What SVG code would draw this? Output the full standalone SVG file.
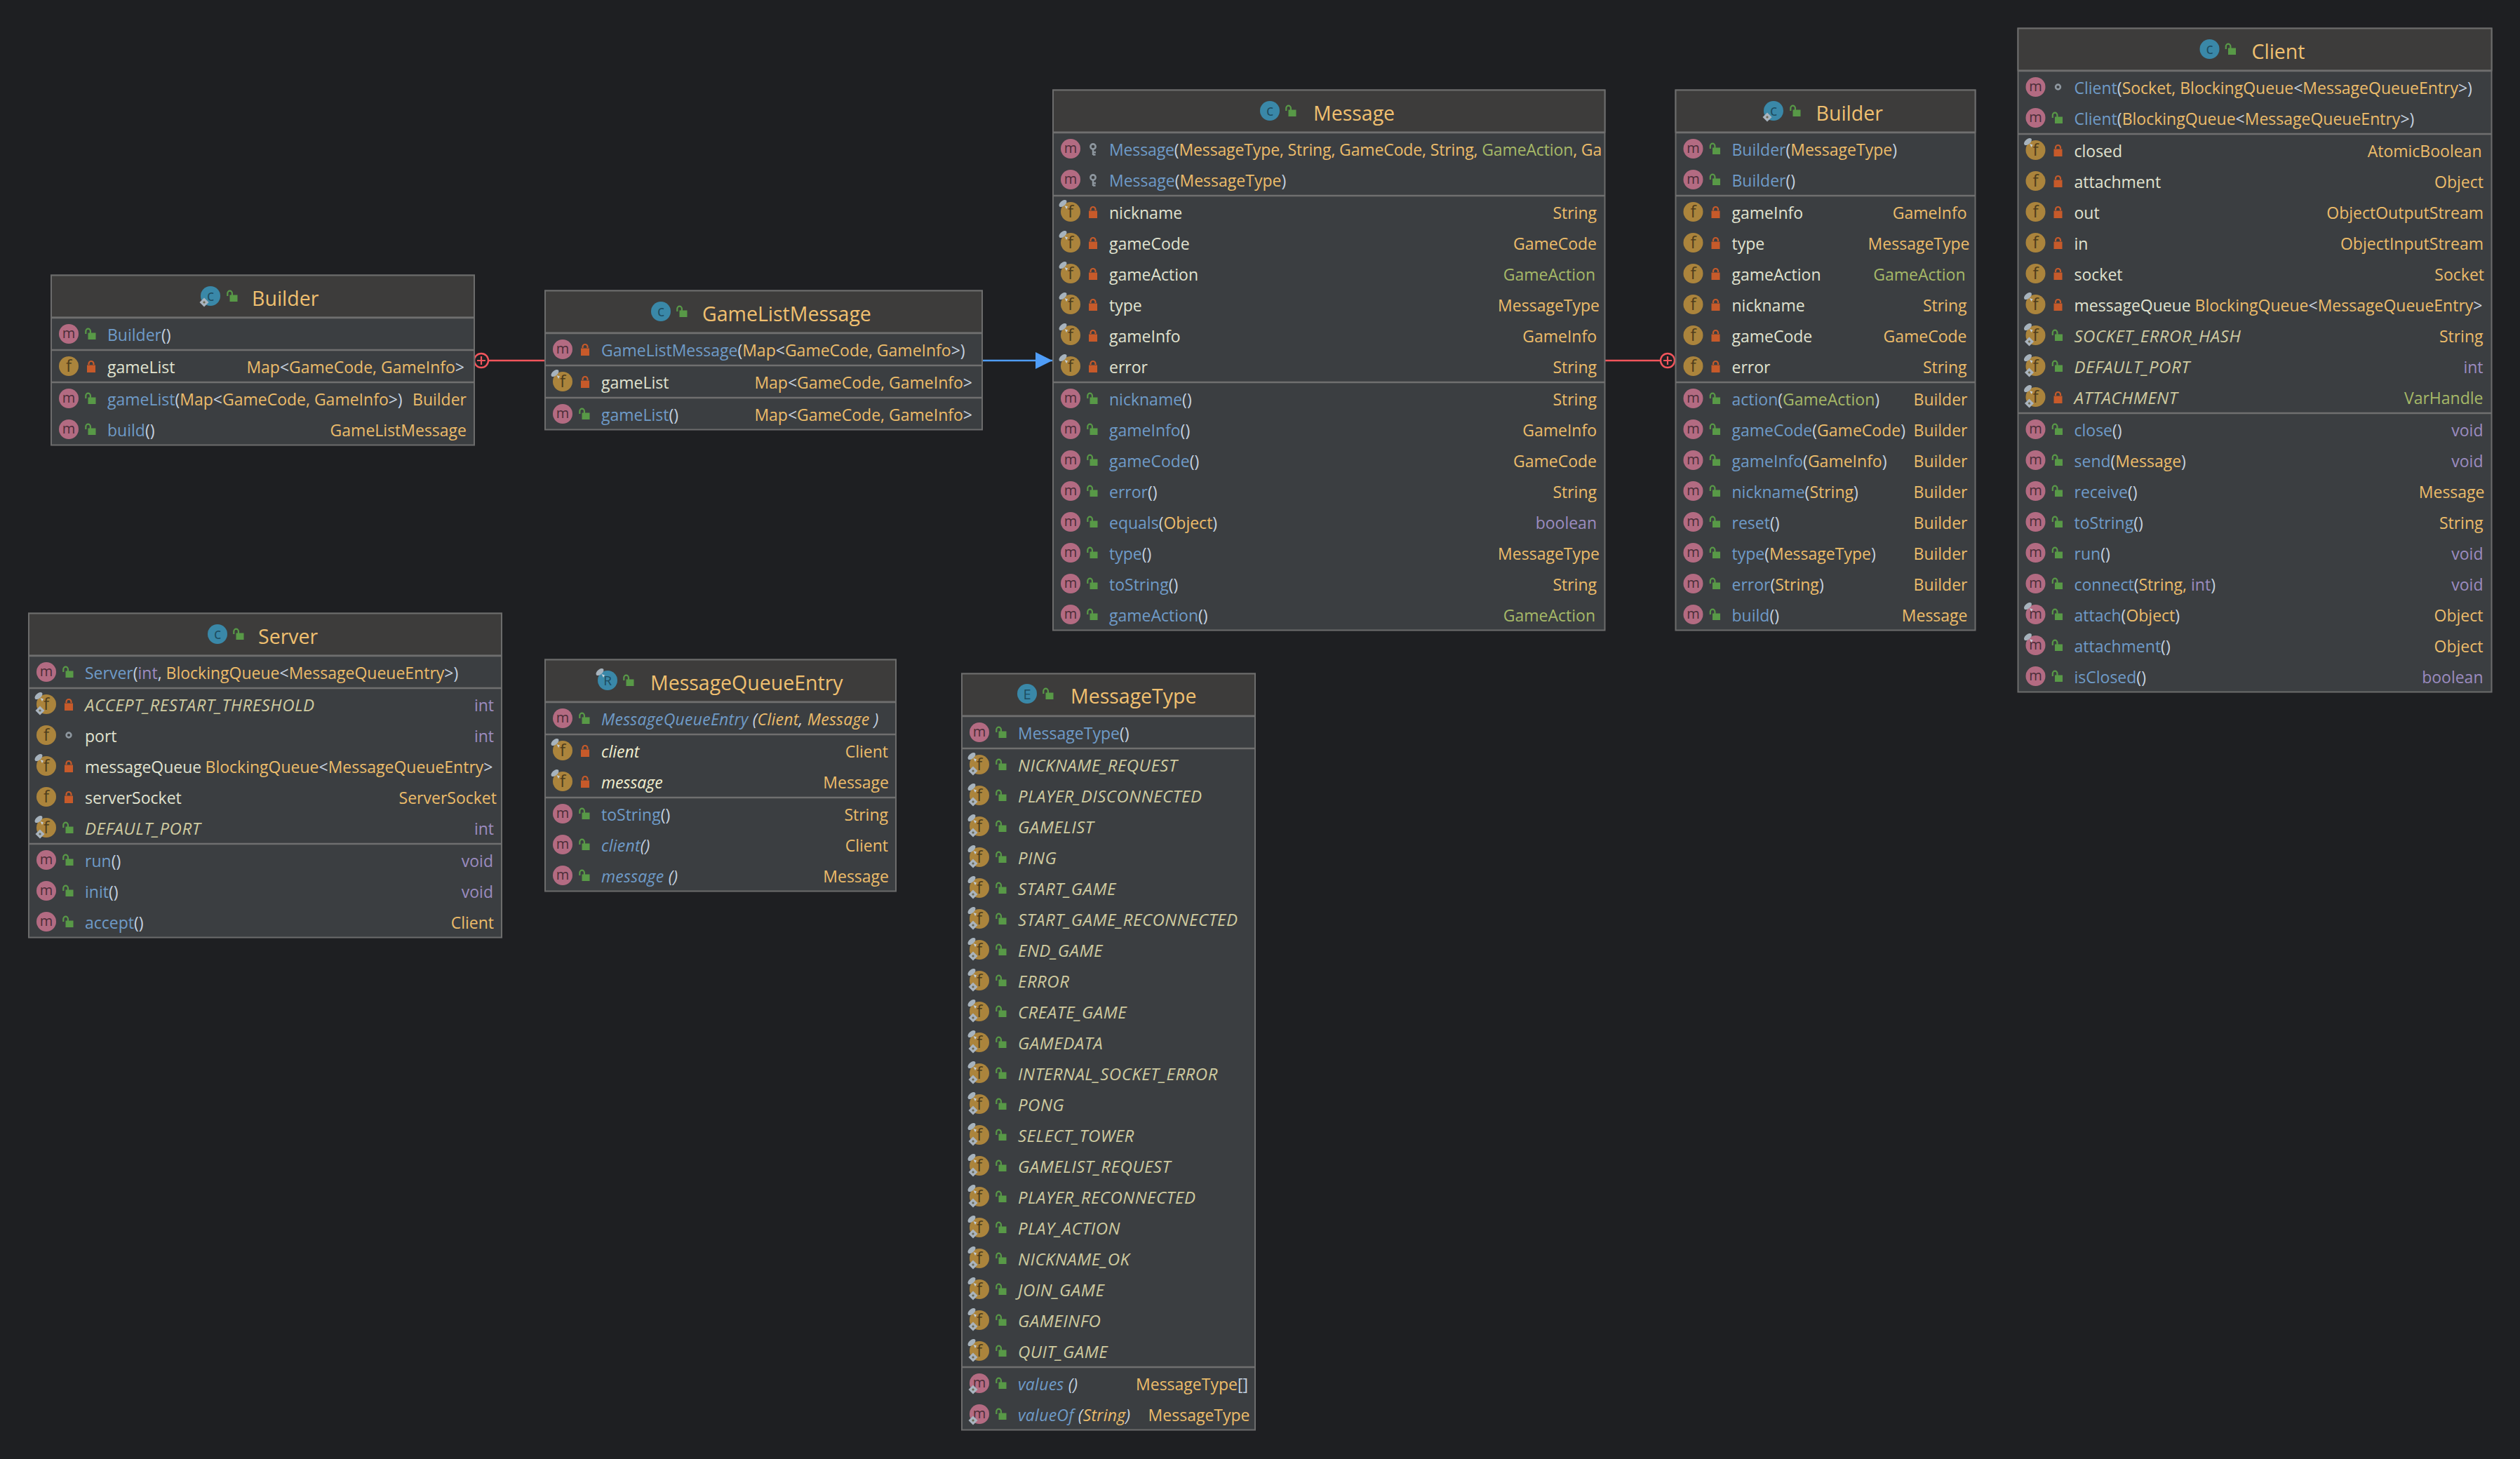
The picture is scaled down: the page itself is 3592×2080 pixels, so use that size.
<svg xmlns="http://www.w3.org/2000/svg" width="3592" height="2080" viewBox="0 0 3592 2080">
<style>
text{font-family:"Open Sans","Noto Sans",sans-serif;font-size:23px;white-space:pre}
.body{fill:#3b3e41;stroke:#6c6c6c;stroke-width:2}
.head{fill:#3d3c3b;stroke:#6c6c6c;stroke-width:2}
.dv{stroke:#6f6f6f;stroke-width:2.4;fill:none}
.title{font-size:28.5px;fill:#f0c070}
.n{fill:#6f9bc8}.p{fill:#c5d2e0}.t{fill:#ecbc6a}.g{fill:#a6b968}.k{fill:#9c8cc0}
.f{fill:#e0e3d0}.fi{fill:#cfcba0;font-style:italic;font-size:24px;letter-spacing:.5px}.fw{fill:#f1efcf;font-style:italic}.i{font-style:italic;letter-spacing:.25px}
.r{text-anchor:end}
.il{text-anchor:middle}
.conn{fill:none;stroke-width:2.6}
</style>
<defs>
<clipPath id="msgclip"><rect x="0" y="190" width="783" height="44"/></clipPath>
<g id="m"><circle cx="25" cy="0" r="14" fill="#b36b82"/><text class="il" x="25" y="5.5" style="font-size:20px;fill:#4b2d38">m</text></g>
<g id="f"><circle cx="25" cy="0" r="14" fill="#ab843c"/><text class="il" x="25" y="8" style="font-size:24px;fill:#4f3d1c">f</text></g>
<g id="pin"><ellipse cx="14" cy="-12" rx="6.5" ry="3.6" transform="rotate(-40 14 -12)" fill="#a7b3bd"/><path d="M16.5 -9L21 -7.5L19 -4z" fill="#c5ced6"/></g>
<g id="dia"><path d="M16 2.5L22.5 9L16 15.5L9.5 9z" fill="#a9b4bf"/><path d="M16 7L18 9L16 11L14 9z" fill="#6d6a55"/></g>
<g id="lo"><path d="M53.5 -2V-3.5a3.5 3.5 0 0 1 7 0V-2" fill="none" stroke="#c75a2a" stroke-width="2.2"/><rect x="51" y="-1.5" width="12" height="10.5" fill="#c75a2a"/></g>
<g id="lg"><path d="M49.3 0V-4a3.3 3.3 0 0 1 6.6 0V-1" fill="none" stroke="#589947" stroke-width="2.2"/><rect x="52.5" y="-1.5" width="11" height="9.5" fill="#589947"/></g>
<g id="key"><circle cx="57" cy="-3" r="3.6" fill="none" stroke="#8e979f" stroke-width="2.6"/><path d="M57 0V9M57 5H61M57 8.5H60.5" fill="none" stroke="#8e979f" stroke-width="2.4"/></g>
<circle id="pk" cx="57" cy="0" r="3.4" fill="none" stroke="#8e979f" stroke-width="2.6"/>
<marker id="arrow" markerUnits="userSpaceOnUse" viewBox="0 0 24 24" refX="24" refY="12" markerWidth="24" markerHeight="24" orient="0"><path d="M0 0L24 12L0 24z" fill="#4f9df8"/></marker>
<marker id="plusR" markerUnits="userSpaceOnUse" viewBox="0 0 24 24" refX="22" refY="12" markerWidth="24" markerHeight="24" orient="0"><circle cx="12" cy="12" r="10" fill="none" stroke="#f2555c" stroke-width="2.4"/><path d="M12 6V18M6 12H18" stroke="#f2555c" stroke-width="2.2" fill="none"/></marker>
<marker id="plusL" markerUnits="userSpaceOnUse" viewBox="0 0 24 24" refX="2" refY="12" markerWidth="24" markerHeight="24" orient="0"><circle cx="12" cy="12" r="10" fill="none" stroke="#f2555c" stroke-width="2.4"/><path d="M12 6V18M6 12H18" stroke="#f2555c" stroke-width="2.2" fill="none"/></marker>
</defs>
<rect width="3592" height="2080" fill="#1e1f22"/>
<g id="connectors">
<path class="conn" d="M696 514H776" stroke="#f2555c" marker-start="url(#plusR)"/>
<path class="conn" d="M1401 514H1500" stroke="#4f9df8" marker-end="url(#arrow)"/>
<path class="conn" d="M2288 514H2367" stroke="#f2555c" marker-end="url(#plusL)"/>
</g>

<g id="builder-gamelist" transform="translate(73 0)">
<rect class="body" y="392.5" width="603" height="242"/><rect class="head" y="392.5" width="603" height="60"/>
<path class="dv" d="M0 453H603M0 499H603M0 545H603"/>
<circle cx="227" cy="422" r="14" fill="#3a88a8"/><text class="il" x="227" y="429" style="font-size:21px;fill:#1d4c60">c</text><use href="#dia" x="202" y="422"/><use href="#lg" x="202" y="422"/>
<text class="title" x="286" y="436">Builder</text>
<use href="#m" y="476"/><use href="#lg" y="476"/><text x="80" y="486"><tspan class="n">Builder</tspan><tspan class="p">()</tspan></text>
<use href="#f" y="522"/><use href="#lo" y="522"/><text class="f" x="80" y="532">gameList</text><text class="r" x="589" y="532"><tspan class="t">Map</tspan><tspan class="p">&lt;</tspan><tspan class="t">GameCode, GameInfo</tspan><tspan class="p">&gt;</tspan></text>
<use href="#m" y="568"/><use href="#lg" y="568"/><text x="80" y="578"><tspan class="n">gameList</tspan><tspan class="p">(</tspan><tspan class="t">Map</tspan><tspan class="p">&lt;</tspan><tspan class="t">GameCode, GameInfo</tspan><tspan class="p">&gt;)</tspan></text><text class="r t" x="592" y="578">Builder</text>
<use href="#m" y="612"/><use href="#lg" y="612"/><text x="80" y="622"><tspan class="n">build</tspan><tspan class="p">()</tspan></text><text class="r t" x="592" y="622">GameListMessage</text>
</g>

<g id="gamelistmessage" transform="translate(777 0)">
<rect class="body" y="414.5" width="623" height="198"/><rect class="head" y="414.5" width="623" height="60"/>
<path class="dv" d="M0 475H623M0 521H623M0 567H623"/>
<circle cx="165" cy="444" r="14" fill="#3a88a8"/><text class="il" x="165" y="451" style="font-size:21px;fill:#1d4c60">c</text><use href="#lg" x="139" y="444"/>
<text class="title" x="224" y="458">GameListMessage</text>
<use href="#m" y="498"/><use href="#lo" y="498"/><text x="80" y="508"><tspan class="n">GameListMessage</tspan><tspan class="p">(</tspan><tspan class="t">Map</tspan><tspan class="p">&lt;</tspan><tspan class="t">GameCode, GameInfo</tspan><tspan class="p">&gt;)</tspan></text>
<use href="#f" y="544"/><use href="#pin" y="544"/><use href="#lo" y="544"/><text class="f" x="80" y="554">gameList</text><text class="r" x="609" y="554"><tspan class="t">Map</tspan><tspan class="p">&lt;</tspan><tspan class="t">GameCode, GameInfo</tspan><tspan class="p">&gt;</tspan></text>
<use href="#m" y="590"/><use href="#lg" y="590"/><text x="80" y="600"><tspan class="n">gameList</tspan><tspan class="p">()</tspan></text><text class="r" x="609" y="600"><tspan class="t">Map</tspan><tspan class="p">&lt;</tspan><tspan class="t">GameCode, GameInfo</tspan><tspan class="p">&gt;</tspan></text>
</g>

<g id="message" transform="translate(1501 0)">
<rect class="body" y="128.5" width="786.5" height="770"/><rect class="head" y="128.5" width="786.5" height="60"/>
<path class="dv" d="M0 189H786.5M0 279H786.5M0 545H786.5"/>
<circle cx="309" cy="158" r="14" fill="#3a88a8"/><text class="il" x="309" y="165" style="font-size:21px;fill:#1d4c60">c</text><use href="#lg" x="283" y="158"/>
<text class="title" x="371" y="172">Message</text>
<use href="#m" y="212"/><use href="#key" y="212"/><text x="80" y="222" clip-path="url(#msgclip)" style="letter-spacing:-.13px"><tspan class="n">Message</tspan><tspan class="p">(</tspan><tspan class="t">MessageType, String, GameCode, String, </tspan><tspan class="g">GameAction</tspan><tspan class="t">, Ga</tspan></text>
<use href="#m" y="256"/><use href="#key" y="256"/><text x="80" y="266"><tspan class="n">Message</tspan><tspan class="p">(</tspan><tspan class="t">MessageType</tspan><tspan class="p">)</tspan></text>
<use href="#f" y="302"/><use href="#pin" y="302"/><use href="#lo" y="302"/><text class="f" x="80" y="312">nickname</text><text class="r t" x="775" y="312">String</text>
<use href="#f" y="346"/><use href="#pin" y="346"/><use href="#lo" y="346"/><text class="f" x="80" y="356">gameCode</text><text class="r t" x="775" y="356">GameCode</text>
<use href="#f" y="390"/><use href="#pin" y="390"/><use href="#lo" y="390"/><text class="f" x="80" y="400">gameAction</text><text class="r g" x="773" y="400">GameAction</text>
<use href="#f" y="434"/><use href="#pin" y="434"/><use href="#lo" y="434"/><text class="f" x="80" y="444">type</text><text class="r t" x="779" y="444">MessageType</text>
<use href="#f" y="478"/><use href="#pin" y="478"/><use href="#lo" y="478"/><text class="f" x="80" y="488">gameInfo</text><text class="r t" x="775" y="488">GameInfo</text>
<use href="#f" y="522"/><use href="#pin" y="522"/><use href="#lo" y="522"/><text class="f" x="80" y="532">error</text><text class="r t" x="775" y="532">String</text>
<use href="#m" y="568"/><use href="#lg" y="568"/><text x="80" y="578"><tspan class="n">nickname</tspan><tspan class="p">()</tspan></text><text class="r t" x="775" y="578">String</text>
<use href="#m" y="612"/><use href="#lg" y="612"/><text x="80" y="622"><tspan class="n">gameInfo</tspan><tspan class="p">()</tspan></text><text class="r t" x="775" y="622">GameInfo</text>
<use href="#m" y="656"/><use href="#lg" y="656"/><text x="80" y="666"><tspan class="n">gameCode</tspan><tspan class="p">()</tspan></text><text class="r t" x="775" y="666">GameCode</text>
<use href="#m" y="700"/><use href="#lg" y="700"/><text x="80" y="710"><tspan class="n">error</tspan><tspan class="p">()</tspan></text><text class="r t" x="775" y="710">String</text>
<use href="#m" y="744"/><use href="#lg" y="744"/><text x="80" y="754"><tspan class="n">equals</tspan><tspan class="p">(</tspan><tspan class="t">Object</tspan><tspan class="p">)</tspan></text><text class="r k" x="775" y="754">boolean</text>
<use href="#m" y="788"/><use href="#lg" y="788"/><text x="80" y="798"><tspan class="n">type</tspan><tspan class="p">()</tspan></text><text class="r t" x="779" y="798">MessageType</text>
<use href="#m" y="832"/><use href="#lg" y="832"/><text x="80" y="842"><tspan class="n">toString</tspan><tspan class="p">()</tspan></text><text class="r t" x="775" y="842">String</text>
<use href="#m" y="876"/><use href="#lg" y="876"/><text x="80" y="886"><tspan class="n">gameAction</tspan><tspan class="p">()</tspan></text><text class="r g" x="773" y="886">GameAction</text>
</g>

<g id="builder-message" transform="translate(2388.5 0)">
<rect class="body" y="128.5" width="427" height="770"/><rect class="head" y="128.5" width="427" height="60"/>
<path class="dv" d="M0 189H427M0 279H427M0 545H427"/>
<circle cx="139.5" cy="158" r="14" fill="#3a88a8"/><text class="il" x="139.5" y="165" style="font-size:21px;fill:#1d4c60">c</text><use href="#dia" x="114.5" y="158"/><use href="#lg" x="114.5" y="158"/>
<text class="title" x="200" y="172">Builder</text>
<use href="#m" y="212"/><use href="#lg" y="212"/><text x="80" y="222"><tspan class="n">Builder</tspan><tspan class="p">(</tspan><tspan class="t">MessageType</tspan><tspan class="p">)</tspan></text>
<use href="#m" y="256"/><use href="#lg" y="256"/><text x="80" y="266"><tspan class="n">Builder</tspan><tspan class="p">()</tspan></text>
<use href="#f" y="302"/><use href="#lo" y="302"/><text class="f" x="80" y="312">gameInfo</text><text class="r t" x="415" y="312">GameInfo</text>
<use href="#f" y="346"/><use href="#lo" y="346"/><text class="f" x="80" y="356">type</text><text class="r t" x="419" y="356">MessageType</text>
<use href="#f" y="390"/><use href="#lo" y="390"/><text class="f" x="80" y="400">gameAction</text><text class="r g" x="413" y="400">GameAction</text>
<use href="#f" y="434"/><use href="#lo" y="434"/><text class="f" x="80" y="444">nickname</text><text class="r t" x="415" y="444">String</text>
<use href="#f" y="478"/><use href="#lo" y="478"/><text class="f" x="80" y="488">gameCode</text><text class="r t" x="415" y="488">GameCode</text>
<use href="#f" y="522"/><use href="#lo" y="522"/><text class="f" x="80" y="532">error</text><text class="r t" x="415" y="532">String</text>
<use href="#m" y="568"/><use href="#lg" y="568"/><text x="80" y="578"><tspan class="n">action</tspan><tspan class="p">(</tspan><tspan class="g">GameAction</tspan><tspan class="p">)</tspan></text><text class="r t" x="416" y="578">Builder</text>
<use href="#m" y="612"/><use href="#lg" y="612"/><text x="80" y="622"><tspan class="n">gameCode</tspan><tspan class="p">(</tspan><tspan class="t">GameCode</tspan><tspan class="p">)</tspan></text><text class="r t" x="416" y="622">Builder</text>
<use href="#m" y="656"/><use href="#lg" y="656"/><text x="80" y="666"><tspan class="n">gameInfo</tspan><tspan class="p">(</tspan><tspan class="t">GameInfo</tspan><tspan class="p">)</tspan></text><text class="r t" x="416" y="666">Builder</text>
<use href="#m" y="700"/><use href="#lg" y="700"/><text x="80" y="710"><tspan class="n">nickname</tspan><tspan class="p">(</tspan><tspan class="t">String</tspan><tspan class="p">)</tspan></text><text class="r t" x="416" y="710">Builder</text>
<use href="#m" y="744"/><use href="#lg" y="744"/><text x="80" y="754"><tspan class="n">reset</tspan><tspan class="p">()</tspan></text><text class="r t" x="416" y="754">Builder</text>
<use href="#m" y="788"/><use href="#lg" y="788"/><text x="80" y="798"><tspan class="n">type</tspan><tspan class="p">(</tspan><tspan class="t">MessageType</tspan><tspan class="p">)</tspan></text><text class="r t" x="416" y="798">Builder</text>
<use href="#m" y="832"/><use href="#lg" y="832"/><text x="80" y="842"><tspan class="n">error</tspan><tspan class="p">(</tspan><tspan class="t">String</tspan><tspan class="p">)</tspan></text><text class="r t" x="416" y="842">Builder</text>
<use href="#m" y="876"/><use href="#lg" y="876"/><text x="80" y="886"><tspan class="n">build</tspan><tspan class="p">()</tspan></text><text class="r t" x="416" y="886">Message</text>
</g>

<g id="client" transform="translate(2876.5 0)">
<rect class="body" y="40.5" width="675" height="946"/><rect class="head" y="40.5" width="675" height="60"/>
<path class="dv" d="M0 101H675M0 191H675M0 589H675"/>
<circle cx="273" cy="70" r="14" fill="#3a88a8"/><text class="il" x="273" y="77" style="font-size:21px;fill:#1d4c60">c</text><use href="#lg" x="247" y="70"/>
<text class="title" x="333" y="84">Client</text>
<use href="#m" y="124"/><use href="#pk" y="124"/><text x="80" y="134"><tspan class="n">Client</tspan><tspan class="p">(</tspan><tspan class="t">Socket, BlockingQueue</tspan><tspan class="p">&lt;</tspan><tspan class="t">MessageQueueEntry</tspan><tspan class="p">&gt;)</tspan></text>
<use href="#m" y="168"/><use href="#lg" y="168"/><text x="80" y="178"><tspan class="n">Client</tspan><tspan class="p">(</tspan><tspan class="t">BlockingQueue</tspan><tspan class="p">&lt;</tspan><tspan class="t">MessageQueueEntry</tspan><tspan class="p">&gt;)</tspan></text>
<use href="#f" y="214"/><use href="#pin" y="214"/><use href="#lo" y="214"/><text class="f" x="80" y="224">closed</text><text class="r t" x="661" y="224">AtomicBoolean</text>
<use href="#f" y="258"/><use href="#lo" y="258"/><text class="f" x="80" y="268">attachment</text><text class="r t" x="663.5" y="268">Object</text>
<use href="#f" y="302"/><use href="#lo" y="302"/><text class="f" x="80" y="312">out</text><text class="r t" x="663.5" y="312">ObjectOutputStream</text>
<use href="#f" y="346"/><use href="#lo" y="346"/><text class="f" x="80" y="356">in</text><text class="r t" x="663.5" y="356">ObjectInputStream</text>
<use href="#f" y="390"/><use href="#lo" y="390"/><text class="f" x="80" y="400">socket</text><text class="r t" x="664.5" y="400">Socket</text>
<use href="#f" y="434"/><use href="#pin" y="434"/><use href="#lo" y="434"/><text class="f" x="80" y="444">messageQueue</text><text class="r" x="662" y="444"><tspan class="t">BlockingQueue</tspan><tspan class="p">&lt;</tspan><tspan class="t">MessageQueueEntry</tspan><tspan class="p">&gt;</tspan></text>
<use href="#f" y="478"/><use href="#pin" y="478"/><use href="#dia" y="478"/><use href="#lg" y="478"/><text class="fi" x="80" y="488">SOCKET_ERROR_HASH</text><text class="r t" x="663" y="488">String</text>
<use href="#f" y="522"/><use href="#pin" y="522"/><use href="#dia" y="522"/><use href="#lg" y="522"/><text class="fi" x="80" y="532">DEFAULT_PORT</text><text class="r k" x="663" y="532">int</text>
<use href="#f" y="566"/><use href="#pin" y="566"/><use href="#dia" y="566"/><use href="#lo" y="566"/><text class="fi" x="80" y="576">ATTACHMENT</text><text class="r g" x="663" y="576">VarHandle</text>
<use href="#m" y="612"/><use href="#lg" y="612"/><text x="80" y="622"><tspan class="n">close</tspan><tspan class="p">()</tspan></text><text class="r k" x="663" y="622">void</text>
<use href="#m" y="656"/><use href="#lg" y="656"/><text x="80" y="666"><tspan class="n">send</tspan><tspan class="p">(</tspan><tspan class="t">Message</tspan><tspan class="p">)</tspan></text><text class="r k" x="663" y="666">void</text>
<use href="#m" y="700"/><use href="#lg" y="700"/><text x="80" y="710"><tspan class="n">receive</tspan><tspan class="p">()</tspan></text><text class="r t" x="665" y="710">Message</text>
<use href="#m" y="744"/><use href="#lg" y="744"/><text x="80" y="754"><tspan class="n">toString</tspan><tspan class="p">()</tspan></text><text class="r t" x="663" y="754">String</text>
<use href="#m" y="788"/><use href="#lg" y="788"/><text x="80" y="798"><tspan class="n">run</tspan><tspan class="p">()</tspan></text><text class="r k" x="663" y="798">void</text>
<use href="#m" y="832"/><use href="#lg" y="832"/><text x="80" y="842"><tspan class="n">connect</tspan><tspan class="p">(</tspan><tspan class="t">String, </tspan><tspan class="k">int</tspan><tspan class="p">)</tspan></text><text class="r k" x="663" y="842">void</text>
<use href="#m" y="876"/><use href="#pin" y="876"/><use href="#lg" y="876"/><text x="80" y="886"><tspan class="n">attach</tspan><tspan class="p">(</tspan><tspan class="t">Object</tspan><tspan class="p">)</tspan></text><text class="r t" x="663" y="886">Object</text>
<use href="#m" y="920"/><use href="#pin" y="920"/><use href="#lg" y="920"/><text x="80" y="930"><tspan class="n">attachment</tspan><tspan class="p">()</tspan></text><text class="r t" x="663" y="930">Object</text>
<use href="#m" y="964"/><use href="#lg" y="964"/><text x="80" y="974"><tspan class="n">isClosed</tspan><tspan class="p">()</tspan></text><text class="r k" x="663" y="974">boolean</text>
</g>

<g id="server" transform="translate(41 0)">
<rect class="body" y="874.5" width="674" height="462"/><rect class="head" y="874.5" width="674" height="60"/>
<path class="dv" d="M0 935H674M0 981H674M0 1203H674"/>
<circle cx="269" cy="904" r="14" fill="#3a88a8"/><text class="il" x="269" y="911" style="font-size:21px;fill:#1d4c60">c</text><use href="#lg" x="243" y="904"/>
<text class="title" x="327" y="918">Server</text>
<use href="#m" y="958"/><use href="#lg" y="958"/><text x="80" y="968"><tspan class="n">Server</tspan><tspan class="p">(</tspan><tspan class="k">int</tspan><tspan class="p">, </tspan><tspan class="t">BlockingQueue</tspan><tspan class="p">&lt;</tspan><tspan class="t">MessageQueueEntry</tspan><tspan class="p">&gt;)</tspan></text>
<use href="#f" y="1004"/><use href="#pin" y="1004"/><use href="#dia" y="1004"/><use href="#lo" y="1004"/><text class="fi" x="80" y="1014">ACCEPT_RESTART_THRESHOLD</text><text class="r k" x="663" y="1014">int</text>
<use href="#f" y="1048"/><use href="#pk" y="1048"/><text class="f" x="80" y="1058">port</text><text class="r k" x="663" y="1058">int</text>
<use href="#f" y="1092"/><use href="#pin" y="1092"/><use href="#lo" y="1092"/><text class="f" x="80" y="1102">messageQueue</text><text class="r" x="661.5" y="1102"><tspan class="t">BlockingQueue</tspan><tspan class="p">&lt;</tspan><tspan class="t">MessageQueueEntry</tspan><tspan class="p">&gt;</tspan></text>
<use href="#f" y="1136"/><use href="#lo" y="1136"/><text class="f" x="80" y="1146">serverSocket</text><text class="r t" x="667" y="1146">ServerSocket</text>
<use href="#f" y="1180"/><use href="#pin" y="1180"/><use href="#dia" y="1180"/><use href="#lg" y="1180"/><text class="fi" x="80" y="1190">DEFAULT_PORT</text><text class="r k" x="663" y="1190">int</text>
<use href="#m" y="1226"/><use href="#lg" y="1226"/><text x="80" y="1236"><tspan class="n">run</tspan><tspan class="p">()</tspan></text><text class="r k" x="662" y="1236">void</text>
<use href="#m" y="1270"/><use href="#lg" y="1270"/><text x="80" y="1280"><tspan class="n">init</tspan><tspan class="p">()</tspan></text><text class="r k" x="662" y="1280">void</text>
<use href="#m" y="1314"/><use href="#lg" y="1314"/><text x="80" y="1324"><tspan class="n">accept</tspan><tspan class="p">()</tspan></text><text class="r t" x="663" y="1324">Client</text>
</g>

<g id="messagequeueentry" transform="translate(777 0)">
<rect class="body" y="940.5" width="500" height="330"/><rect class="head" y="940.5" width="500" height="60"/>
<path class="dv" d="M0 1001H500M0 1047H500M0 1137H500"/>
<circle cx="89" cy="970" r="14" fill="#3a88a8"/><text class="il" x="89" y="977" style="font-size:19px;fill:#1d4c60">R</text><use href="#pin" x="64" y="970"/><use href="#lg" x="63" y="970"/>
<text class="title" x="150" y="984">MessageQueueEntry</text>
<use href="#m" y="1024"/><use href="#lg" y="1024"/><text class="i" x="80" y="1034"><tspan class="n">MessageQueueEntry </tspan><tspan class="p">(</tspan><tspan class="t">Client</tspan><tspan class="p">, </tspan><tspan class="t">Message </tspan><tspan class="p">)</tspan></text>
<use href="#f" y="1070"/><use href="#pin" y="1070"/><use href="#lo" y="1070"/><text class="fw" x="80" y="1080">client</text><text class="r t" x="489" y="1080">Client</text>
<use href="#f" y="1114"/><use href="#pin" y="1114"/><use href="#lo" y="1114"/><text class="fw" x="80" y="1124">message</text><text class="r t" x="490" y="1124">Message</text>
<use href="#m" y="1160"/><use href="#lg" y="1160"/><text x="80" y="1170"><tspan class="n">toString</tspan><tspan class="p">()</tspan></text><text class="r t" x="489" y="1170">String</text>
<use href="#m" y="1204"/><use href="#lg" y="1204"/><text class="i" x="80" y="1214"><tspan class="n">client</tspan><tspan class="p">()</tspan></text><text class="r t" x="489" y="1214">Client</text>
<use href="#m" y="1248"/><use href="#lg" y="1248"/><text class="i" x="80" y="1258"><tspan class="n">message </tspan><tspan class="p">()</tspan></text><text class="r t" x="490" y="1258">Message</text>
</g>

<g id="messagetype" transform="translate(1371 0)">
<rect class="body" y="960.5" width="418" height="1078"/><rect class="head" y="960.5" width="418" height="60"/>
<path class="dv" d="M0 1021H418M0 1067H418M0 1949H418"/>
<circle cx="93" cy="989" r="14" fill="#3a88a8"/><text class="il" x="93" y="996.5" style="font-size:20px;fill:#1d4c60">E</text><use href="#lg" x="67" y="989"/>
<text class="title" x="155" y="1003">MessageType</text>
<use href="#m" y="1044"/><use href="#lg" y="1044"/><text x="80" y="1054"><tspan class="n">MessageType</tspan><tspan class="p">()</tspan></text>
<use href="#f" y="1090"/><use href="#pin" y="1090"/><use href="#dia" y="1090"/><use href="#lg" y="1090"/><text class="fi" x="80" y="1100">NICKNAME_REQUEST</text>
<use href="#f" y="1134"/><use href="#pin" y="1134"/><use href="#dia" y="1134"/><use href="#lg" y="1134"/><text class="fi" x="80" y="1144">PLAYER_DISCONNECTED</text>
<use href="#f" y="1178"/><use href="#pin" y="1178"/><use href="#dia" y="1178"/><use href="#lg" y="1178"/><text class="fi" x="80" y="1188">GAMELIST</text>
<use href="#f" y="1222"/><use href="#pin" y="1222"/><use href="#dia" y="1222"/><use href="#lg" y="1222"/><text class="fi" x="80" y="1232">PING</text>
<use href="#f" y="1266"/><use href="#pin" y="1266"/><use href="#dia" y="1266"/><use href="#lg" y="1266"/><text class="fi" x="80" y="1276">START_GAME</text>
<use href="#f" y="1310"/><use href="#pin" y="1310"/><use href="#dia" y="1310"/><use href="#lg" y="1310"/><text class="fi" x="80" y="1320">START_GAME_RECONNECTED</text>
<use href="#f" y="1354"/><use href="#pin" y="1354"/><use href="#dia" y="1354"/><use href="#lg" y="1354"/><text class="fi" x="80" y="1364">END_GAME</text>
<use href="#f" y="1398"/><use href="#pin" y="1398"/><use href="#dia" y="1398"/><use href="#lg" y="1398"/><text class="fi" x="80" y="1408">ERROR</text>
<use href="#f" y="1442"/><use href="#pin" y="1442"/><use href="#dia" y="1442"/><use href="#lg" y="1442"/><text class="fi" x="80" y="1452">CREATE_GAME</text>
<use href="#f" y="1486"/><use href="#pin" y="1486"/><use href="#dia" y="1486"/><use href="#lg" y="1486"/><text class="fi" x="80" y="1496">GAMEDATA</text>
<use href="#f" y="1530"/><use href="#pin" y="1530"/><use href="#dia" y="1530"/><use href="#lg" y="1530"/><text class="fi" x="80" y="1540">INTERNAL_SOCKET_ERROR</text>
<use href="#f" y="1574"/><use href="#pin" y="1574"/><use href="#dia" y="1574"/><use href="#lg" y="1574"/><text class="fi" x="80" y="1584">PONG</text>
<use href="#f" y="1618"/><use href="#pin" y="1618"/><use href="#dia" y="1618"/><use href="#lg" y="1618"/><text class="fi" x="80" y="1628">SELECT_TOWER</text>
<use href="#f" y="1662"/><use href="#pin" y="1662"/><use href="#dia" y="1662"/><use href="#lg" y="1662"/><text class="fi" x="80" y="1672">GAMELIST_REQUEST</text>
<use href="#f" y="1706"/><use href="#pin" y="1706"/><use href="#dia" y="1706"/><use href="#lg" y="1706"/><text class="fi" x="80" y="1716">PLAYER_RECONNECTED</text>
<use href="#f" y="1750"/><use href="#pin" y="1750"/><use href="#dia" y="1750"/><use href="#lg" y="1750"/><text class="fi" x="80" y="1760">PLAY_ACTION</text>
<use href="#f" y="1794"/><use href="#pin" y="1794"/><use href="#dia" y="1794"/><use href="#lg" y="1794"/><text class="fi" x="80" y="1804">NICKNAME_OK</text>
<use href="#f" y="1838"/><use href="#pin" y="1838"/><use href="#dia" y="1838"/><use href="#lg" y="1838"/><text class="fi" x="80" y="1848">JOIN_GAME</text>
<use href="#f" y="1882"/><use href="#pin" y="1882"/><use href="#dia" y="1882"/><use href="#lg" y="1882"/><text class="fi" x="80" y="1892">GAMEINFO</text>
<use href="#f" y="1926"/><use href="#pin" y="1926"/><use href="#dia" y="1926"/><use href="#lg" y="1926"/><text class="fi" x="80" y="1936">QUIT_GAME</text>
<use href="#m" y="1972"/><use href="#dia" y="1972"/><use href="#lg" y="1972"/><text class="i" x="80" y="1982"><tspan class="n">values </tspan><tspan class="p">()</tspan></text><text class="r" x="408" y="1982"><tspan class="t">MessageType</tspan><tspan class="p">[]</tspan></text>
<use href="#m" y="2016"/><use href="#dia" y="2016"/><use href="#lg" y="2016"/><text class="i" x="80" y="2026"><tspan class="n">valueOf </tspan><tspan class="p">(</tspan><tspan class="t">String</tspan><tspan class="p">)</tspan></text><text class="r t" x="410.5" y="2026">MessageType</text>
</g>
</svg>
